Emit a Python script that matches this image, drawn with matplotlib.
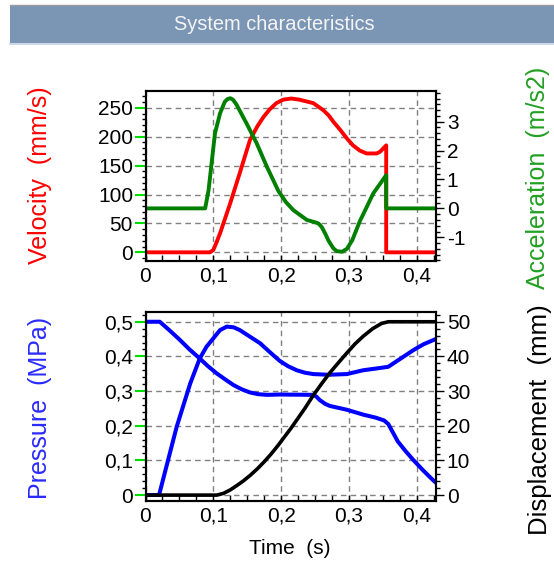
import matplotlib
matplotlib.use("Agg")
import matplotlib.pyplot as plt
from matplotlib.ticker import FixedLocator, MultipleLocator, FuncFormatter
from matplotlib.patches import Rectangle
from matplotlib.lines import Line2D

plt.rcParams['font.family'] = ['Liberation Sans', 'DejaVu Sans']
plt.rcParams['axes.unicode_minus'] = False

# ---------------- data ----------------
title = "System characteristics"
x_ticks = [0, 0.1, 0.2, 0.3, 0.4]
vel_ticks = [0, 50, 100, 150, 200, 250]
acc_ticks = [-1, 0, 1, 2, 3]
pres_ticks = [0, 0.1, 0.2, 0.3, 0.4, 0.5]
disp_ticks = [0, 10, 20, 30, 40, 50]

t_vel = [0, 0.095, 0.100, 0.105, 0.110, 0.125, 0.139, 0.154, 0.165, 0.174,
         0.183, 0.193, 0.203, 0.215, 0.227, 0.2475, 0.262, 0.270, 0.277, 0.287,
         0.297, 0.306, 0.316, 0.326, 0.341, 0.346, 0.355, 0.355, 0.428]
vel = [0, 0, 4, 18, 33, 85, 137, 194, 218, 234,
       247, 258, 264, 266, 264, 258, 246, 237, 226, 212,
       197, 185, 176, 171, 171, 174, 185, 0, 0]

t_acc = [0, 0.088, 0.093, 0.098, 0.1025, 0.110, 0.117, 0.121, 0.125, 0.129,
         0.134, 0.149, 0.164, 0.179, 0.196, 0.207, 0.218, 0.238, 0.250, 0.255,
         0.260, 0.265, 0.270, 0.277, 0.282, 0.290, 0.297, 0.305, 0.316, 0.336,
         0.355, 0.355, 0.428]
acc = [0, 0, 0.63, 1.67, 2.6, 3.29, 3.69, 3.78, 3.81, 3.76,
       3.6, 2.94, 2.25, 1.44, 0.60, 0.22, -0.06, -0.40, -0.48, -0.52,
       -0.65, -0.87, -1.12, -1.38, -1.48, -1.5, -1.4, -1.1, -0.45, 0.52,
       1.15, 0, 0]

t_pres_a = [0, 0.021, 0.035, 0.051, 0.065, 0.080, 0.092, 0.105, 0.118, 0.130,
            0.142, 0.154, 0.166, 0.179, 0.198, 0.2475, 0.252, 0.257, 0.265, 0.272,
            0.297, 0.321, 0.340, 0.352, 0.358, 0.365, 0.372, 0.383, 0.395, 0.410,
            0.424, 0.428]
pres_a = [0.5, 0.5, 0.476, 0.447, 0.420, 0.394, 0.372, 0.351, 0.333, 0.317,
          0.305, 0.296, 0.291, 0.289, 0.290, 0.289, 0.284, 0.274, 0.263, 0.257,
          0.246, 0.232, 0.223, 0.215, 0.205, 0.180, 0.155, 0.128, 0.101, 0.070,
          0.043, 0.036]

t_pres_b = [0, 0.020, 0.046, 0.066, 0.080, 0.090, 0.100, 0.110, 0.120, 0.130,
            0.139, 0.154, 0.169, 0.183, 0.198, 0.210, 0.223, 0.235, 0.2475, 0.270,
            0.297, 0.321, 0.340, 0.358, 0.375, 0.395, 0.410, 0.428]
pres_b = [0, 0, 0.197, 0.322, 0.394, 0.428, 0.452, 0.476, 0.486, 0.484,
          0.476, 0.457, 0.438, 0.413, 0.387, 0.372, 0.360, 0.353, 0.349, 0.347,
          0.349, 0.360, 0.365, 0.370, 0.392, 0.418, 0.435, 0.450]

t_disp = [0, 0.105, 0.115, 0.125, 0.135, 0.145, 0.155, 0.165, 0.175, 0.185,
          0.195, 0.205, 0.215, 0.225, 0.235, 0.2475, 0.260, 0.272, 0.285, 0.297,
          0.309, 0.321, 0.335, 0.348, 0.358, 0.428]
disp = [0, 0, 0.5, 1.5, 2.8, 4.2, 5.8, 7.6, 9.6, 11.8,
        14.2, 16.8, 19.4, 22.2, 25.0, 28.8, 32.2, 35.3, 38.3, 41.0,
        43.6, 45.8, 48.0, 49.5, 50, 50]

# ---------------- figure ----------------
W, H = 554, 563
fig = plt.figure(figsize=(W / 100, H / 100), dpi=100)
fig.patch.set_facecolor('white')

# banner
fig.patches.append(Rectangle((10 / W, 1 - 43 / H), 1 - 10 / W, 38 / H,
                             transform=fig.transFigure, facecolor='#7b96b5',
                             edgecolor='none', zorder=0))
fig.lines.append(Line2D([10 / W, 1], [1 - 43.5 / H, 1 - 43.5 / H],
                        transform=fig.transFigure, color='#c4d2e4', lw=1.2))
fig.lines.append(Line2D([10 / W, 1], [1 - 5 / H, 1 - 5 / H],
                        transform=fig.transFigure, color='#9a9a9a', lw=1.0))
fig.text(274 / W, 1 - 24 / H, title, ha='center', va='center',
         fontsize=14.4, color='#f4f4f4')

left, right = 145.5 / W, 435.7 / W
ax1 = fig.add_axes([left, 1 - 261 / H, right - left, 170 / H])
ax2 = fig.add_axes([left, 1 - 501 / H, right - left, 189.3 / H])

fmt_comma = FuncFormatter(lambda v, p: '0' if abs(v) < 1e-9 else f'{v:.1f}'.replace('.', ','))
fmt_int = FuncFormatter(lambda v, p: f'{int(round(v))}')

def style_axes(ax, yt, ylim, minor, fmt):
    ax.set_xlim(0, 0.428)
    ax.set_ylim(*ylim)
    ax.xaxis.set_major_locator(FixedLocator(x_ticks))
    ax.xaxis.set_minor_locator(MultipleLocator(0.025))
    ax.xaxis.set_major_formatter(fmt_comma)
    ax.yaxis.set_major_locator(FixedLocator(yt))
    ax.yaxis.set_minor_locator(MultipleLocator(minor))
    ax.yaxis.set_major_formatter(fmt)
    ax.grid(True, which='major', color='#808080', linestyle=(0, (4, 3)), lw=1.0)
    ax.tick_params(axis='x', which='both', direction='in', length=4, width=1,
                   labelsize=15, pad=4, color='black', top=False)
    ax.tick_params(axis='y', which='major', direction='out', length=8, width=1.5,
                   color='#00e000', labelsize=15, pad=1)
    ax.tick_params(axis='y', which='minor', direction='out', length=3, width=1,
                   color='black')
    for s in ax.spines.values():
        s.set_linewidth(1.5)
        s.set_color('black')

style_axes(ax1, vel_ticks, (-15, 279), 10, fmt_int)
style_axes(ax2, pres_ticks, (-0.0173, 0.529), 0.02, fmt_comma)

ax1.plot(t_vel, vel, color='#ff0000', lw=2.8)
ax2.plot(t_pres_a, pres_a, color='#0000ff', lw=2.9)
ax2.plot(t_pres_b, pres_b, color='#0000ff', lw=2.9)

ax1b = ax1.twinx()
ax1b.set_ylim(-1.82, 4.06)
ax1b.yaxis.set_major_locator(FixedLocator(acc_ticks))
ax1b.yaxis.set_minor_locator(MultipleLocator(0.2))
ax1b.yaxis.set_major_formatter(fmt_int)
ax1b.plot(t_acc, acc, color='#008000', lw=2.8)

ax2b = ax2.twinx()
ax2b.set_ylim(-1.7, 52.9)
ax2b.yaxis.set_major_locator(FixedLocator(disp_ticks))
ax2b.yaxis.set_minor_locator(MultipleLocator(2))
ax2b.yaxis.set_major_formatter(fmt_int)
ax2b.plot(t_disp, disp, color='black', lw=2.6)

for axb in (ax1b, ax2b):
    axb.set_xlim(0, 0.428)
    axb.tick_params(axis='y', which='major', direction='out', length=6, width=1,
                    color='black', labelsize=15, pad=2)
    axb.tick_params(axis='y', which='minor', direction='out', length=3, width=1,
                    color='black')
    for s in axb.spines.values():
        s.set_linewidth(1.5)

# axis labels
fig.text(40.5 / W, 1 - 175 / H, 'Velocity  (mm/s)', rotation=90, ha='center',
         va='center', fontsize=18, color='#ff0000')
fig.text(538 / W, 1 - 178 / H, 'Acceleration  (m/s2)', rotation=90, ha='center',
         va='center', fontsize=18, color='#22a022')
fig.text(40.5 / W, 1 - 408 / H, 'Pressure  (MPa)', rotation=90, ha='center',
         va='center', fontsize=18, color='#2a2aff')
fig.text(540 / W, 1 - 420 / H, 'Displacement  (mm)', rotation=90, ha='center',
         va='center', fontsize=18.5, color='black')
fig.text(290 / W, 1 - 548 / H, 'Time  (s)', ha='center', va='center',
         fontsize=15, color='black')

fig.savefig('out.png', dpi=100)
